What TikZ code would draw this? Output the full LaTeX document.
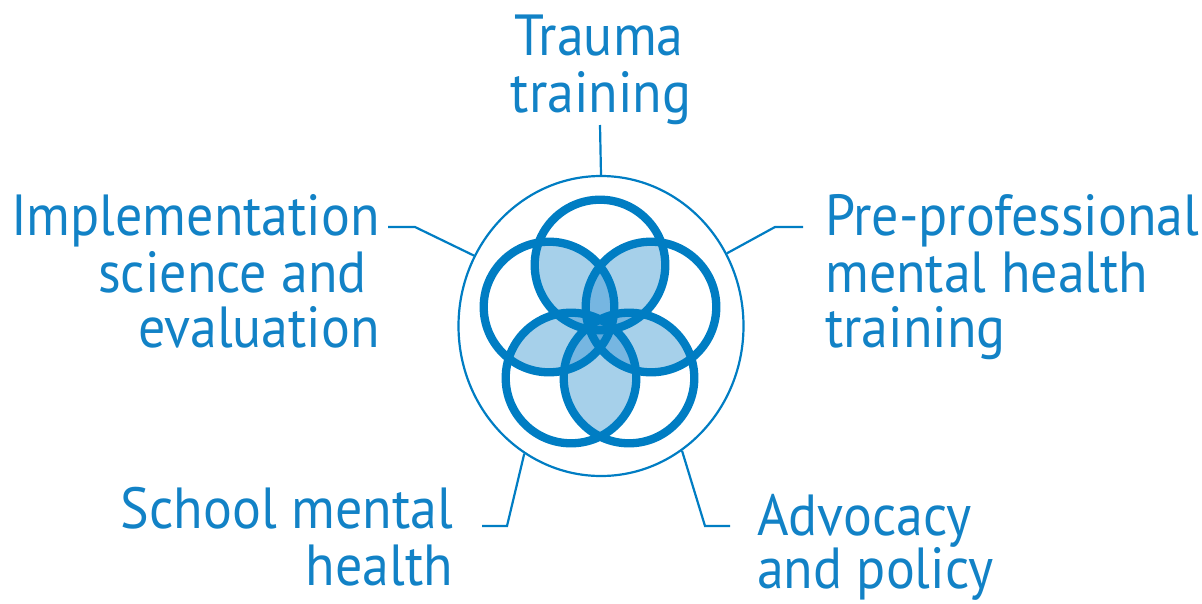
\documentclass[tikz,border=0pt]{standalone}
\usepackage{fontspec}
\setmainfont{PT Sans}[FakeStretch=0.93]
\usetikzlibrary{shapes.geometric}
\definecolor{ringblue}{RGB}{0,125,195}
\definecolor{txtblue}{RGB}{18,130,198}
\definecolor{lens2}{RGB}{166,208,234}
\definecolor{lens3}{RGB}{118,182,225}
\definecolor{lens4}{RGB}{95,170,220}
\definecolor{lens5}{RGB}{72,157,213}
\tikzset{
  lab/.style={text=txtblue, inner sep=0pt, font=\fontsize{58}{58}\selectfont},
  wire/.style={draw=ringblue, line width=2.2pt},
  ring/.style={draw=ringblue, line width=8.3pt},
}
\newcommand{\Rad}{65.3}
\begin{document}
\begin{tikzpicture}[x=1pt,y=-1pt]
\useasboundingbox (0,0) rectangle (1202,603);

% centres of the five interlocking rings
\coordinate (c1) at (600,265);
\coordinate (c2) at (549,307);
\coordinate (c3) at (651,307);
\coordinate (c4) at (571,378);
\coordinate (c5) at (629,378);

% overlaps of two rings
\foreach \a/\b in {1/2,1/3,1/4,1/5,2/3,2/4,2/5,3/4,3/5,4/5}{
  \begin{scope}
    \clip (c\a) circle[radius=\Rad];
    \fill[lens2] (c\b) circle[radius=\Rad];
  \end{scope}
}
% overlaps of three rings
\foreach \a/\b/\c in {1/2/3,1/2/4,1/2/5,1/3/4,1/3/5,1/4/5,2/3/4,2/3/5,2/4/5,3/4/5}{
  \begin{scope}
    \clip (c\a) circle[radius=\Rad];
    \clip (c\b) circle[radius=\Rad];
    \fill[lens3] (c\c) circle[radius=\Rad];
  \end{scope}
}
% overlaps of four rings
\foreach \a/\b/\c/\d in {1/2/3/4,1/2/3/5,1/2/4/5,1/3/4/5,2/3/4/5}{
  \begin{scope}
    \clip (c\a) circle[radius=\Rad];
    \clip (c\b) circle[radius=\Rad];
    \clip (c\c) circle[radius=\Rad];
    \fill[lens4] (c\d) circle[radius=\Rad];
  \end{scope}
}
% common core
\begin{scope}
  \clip (c1) circle[radius=\Rad];
  \clip (c2) circle[radius=\Rad];
  \clip (c3) circle[radius=\Rad];
  \clip (c4) circle[radius=\Rad];
  \fill[lens5] (c5) circle[radius=\Rad];
\end{scope}

% ring outlines
\foreach \i in {1,...,5}{
  \draw[ring] (c\i) circle[radius=\Rad];
}

% enclosing ellipse
\node[ellipse, draw=ringblue, line width=2.2pt, minimum width=285pt,
      minimum height=300pt, inner sep=0pt] (outer) at (601,326) {};

% labels
\node[lab, anchor=base] (tr1) at (599,55) {Trauma};
\node[lab, anchor=base] (tr2) at (601,112) {training};

\node[lab, anchor=base east] (im1) at (380,235) {Implementation};
\node[lab, anchor=base east] (im2) at (367,292) {science and};
\node[lab, anchor=base east] (im3) at (380,347) {evaluation};

\node[lab, anchor=base west] (pp1) at (825,235) {Pre-professional};
\node[lab, anchor=base west] (pp2) at (825,292) {mental health};
\node[lab, anchor=base west] (pp3) at (825,347) {training};

\node[lab, anchor=base east] (sm1) at (453,528) {School mental};
\node[lab, anchor=base east] (sm2) at (453,585) {health};

\node[lab, anchor=base west] (ad1) at (757,535) {Advocacy};
\node[lab, anchor=base west] (ad2) at (757,588) {and policy};

% leader lines
\coordinate (tTop) at (600,125);
\coordinate (tL0) at (388,227);  \coordinate (tL1) at (415,227);
\coordinate (tR0) at (803,227);  \coordinate (tR1) at (775,227);
\coordinate (tSL0) at (482,526); \coordinate (tSL1) at (507,526);
\coordinate (tSR0) at (730,526); \coordinate (tSR1) at (705,526);

\draw[wire] (tTop) -- (outer.90);
\draw[wire] (tL0) -- (tL1) -- (outer.151.9);
\draw[wire] (tR0) -- (tR1) -- (outer.30.1);
\draw[wire] (tSL0) -- (tSL1) -- (outer.239.5);
\draw[wire] (tSR0) -- (tSR1) -- (outer.303.8);
\end{tikzpicture}
\end{document}
